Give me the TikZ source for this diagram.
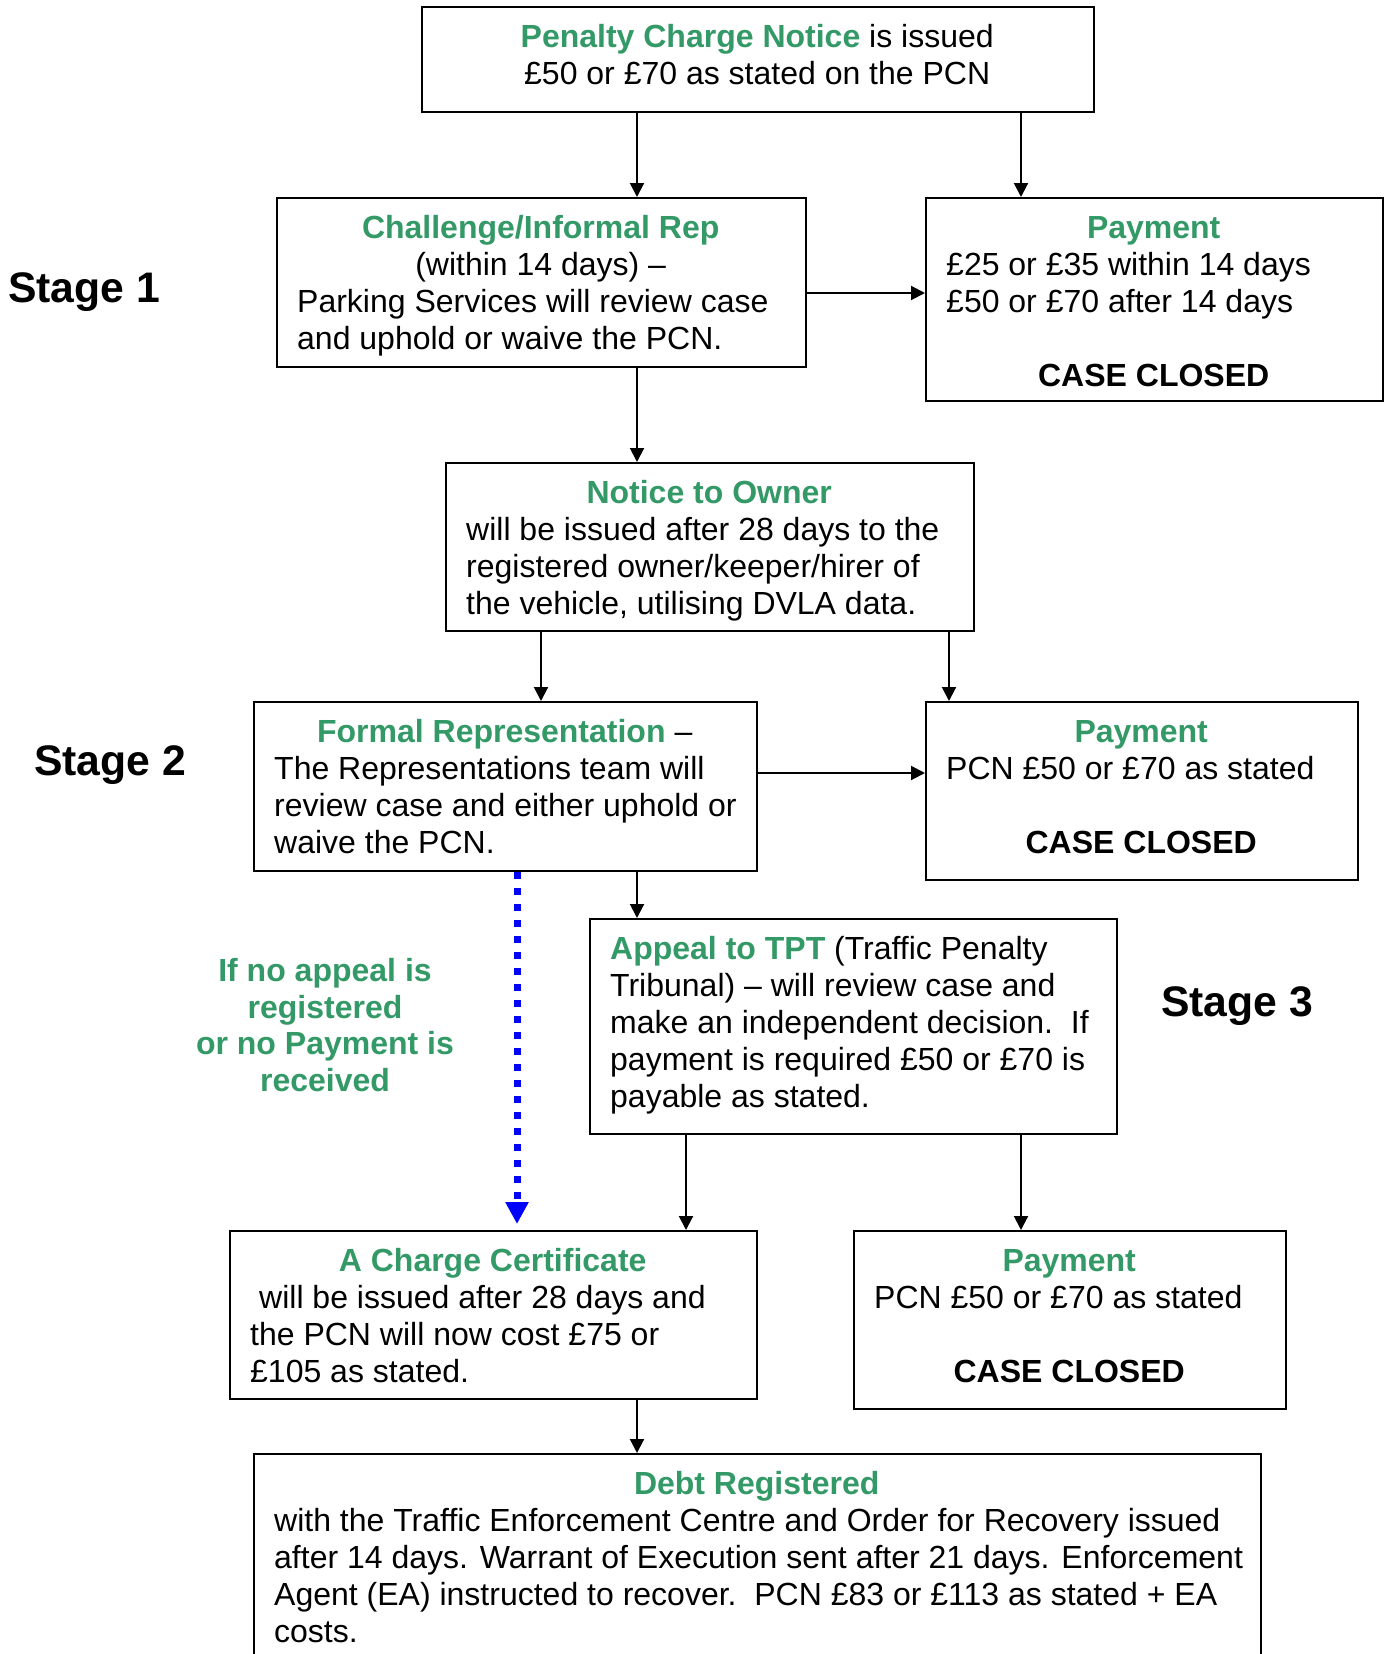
\documentclass[tikz,border=0pt]{standalone}
\usepackage{fontspec}
\setmainfont{Liberation Sans}
\usetikzlibrary{arrows.meta,positioning}
\definecolor{tgreen}{RGB}{51,153,102}
\newcommand\hd[2]{\makebox[#1]{\strut #2}}
\newcommand\grn[1]{{\color{tgreen}\bfseries #1}}

\begin{document}
\begin{tikzpicture}[x=1pt,y=-1pt,
  frame/.style={draw, line width=2pt, inner sep=0pt, anchor=north west},
  txt/.style={inner sep=0pt, align=left, font=\fontsize{32}{36.9}\selectfont},
  stage/.style={inner sep=0pt, anchor=west, font=\fontsize{42.7}{49}\selectfont\bfseries},
  arr/.style={line width=2pt, -{Triangle[length=14pt,width=14pt]}},
  dotarr/.style={blue, line width=7pt, dash pattern=on 7pt off 9pt, -{Triangle[length=22pt,width=22pt]}}]
\useasboundingbox (0,0) rectangle (1386,1654);
\clip (0,0) rectangle (1386,1654);

% frames
\node[frame, minimum width=672pt, minimum height=105pt] (pcn) at (421,6) {};
\node[frame, minimum width=529pt, minimum height=169pt] (chal) at (276,197) {};
\node[frame, minimum width=457pt, minimum height=203pt] (pay1) at (925,197) {};
\node[frame, minimum width=528pt, minimum height=168pt] (nto) at (445,462) {};
\node[frame, minimum width=503pt, minimum height=169pt] (formal) at (253,701) {};
\node[frame, minimum width=432pt, minimum height=178pt] (pay2) at (925,701) {};
\node[frame, minimum width=527pt, minimum height=215pt] (appeal) at (589,918) {};
\node[frame, minimum width=527pt, minimum height=168pt] (cert) at (229,1230) {};
\node[frame, minimum width=432pt, minimum height=178pt] (pay3) at (853,1230) {};
\node[frame, minimum width=1007pt, minimum height=260pt] (debt) at (253,1453) {};

% texts
\node[txt, below right=15.7pt and 21pt of pcn.north west] (pcntxt)
  {\hd{630pt}{\grn{Penalty Charge Notice} is issued}\\
   \hd{630pt}{£50 or £70 as stated on the PCN}};
\node[txt, below right=15.7pt and 21pt of chal.north west] (chaltxt)
  {\hd{487pt}{\grn{Challenge/Informal Rep}}\\
   \hd{487pt}{(within 14 days) --}\\
   Parking Services will review case\\
   and uphold or waive the PCN.};
\node[txt, below right=15.7pt and 21pt of pay1.north west] (pay1txt)
  {\hd{415pt}{\grn{Payment}}\\
   £25 or £35 within 14 days\\
   £50 or £70 after 14 days\\
   \mbox{}\\
   \hd{415pt}{\bfseries CASE CLOSED}};
\node[txt, below right=15.7pt and 21pt of nto.north west] (ntotxt)
  {\hd{486pt}{\grn{Notice to Owner}}\\
   will be issued after 28 days to the\\
   registered owner/keeper/hirer of\\
   the vehicle, utilising DVLA data.};
\node[txt, below right=15.7pt and 21pt of formal.north west] (formaltxt)
  {\hd{461pt}{\grn{Formal Representation} --}\\
   The Representations team will\\
   review case and either uphold or\\
   waive the PCN.};
\node[txt, below right=15.7pt and 21pt of pay2.north west] (pay2txt)
  {\hd{390pt}{\grn{Payment}}\\
   PCN £50 or £70 as stated\\
   \mbox{}\\
   \hd{390pt}{\bfseries CASE CLOSED}};
\node[txt, below right=15.7pt and 21pt of appeal.north west] (appealtxt)
  {\strut\grn{Appeal to TPT} (Traffic Penalty\\
   Tribunal) -- will review case and\\
   make an independent decision.\ \ If\\
   payment is required £50 or £70 is\\
   payable as stated.};
\node[txt, below right=15.7pt and 21pt of cert.north west] (certtxt)
  {\hd{485pt}{\grn{A Charge Certificate}}\\
   \hspace*{9pt}will be issued after 28 days and\\
   the PCN will now cost £75 or\\
   £105 as stated.};
\node[txt, below right=15.7pt and 21pt of pay3.north west] (pay3txt)
  {\hd{390pt}{\grn{Payment}}\\
   PCN £50 or £70 as stated\\
   \mbox{}\\
   \hd{390pt}{\bfseries CASE CLOSED}};
\node[txt, below right=15.7pt and 21pt of debt.north west] (debttxt)
  {\hd{965pt}{\grn{Debt Registered}}\\
   with the Traffic Enforcement Centre and Order for Recovery issued\\
   after 14 days. Warrant of Execution sent after 21 days. Enforcement\\
   Agent (EA) instructed to recover.\ \ PCN £83 or £113 as stated + EA\\
   costs.};

% stages and side note
\node[stage] (st1) at (8,292) {Stage 1};
\node[stage] (st2) at (34,765) {Stage 2};
\node[stage] (st3) at (1161,1006) {Stage 3};
\node[txt, align=center, font=\fontsize{32}{36.9}\selectfont\bfseries, text=tgreen] (noappeal) at (325,1025)
  {If no appeal is\\registered\\or no Payment is\\received};

% connector lines
\coordinate (c1) at (637,0);
\coordinate (c2) at (1021,0);
\coordinate (c3) at (541,0);
\coordinate (c4) at (949,0);
\coordinate (c5) at (686,0);
\coordinate (c6) at (517,0);
\coordinate (r1) at (0,293);
\coordinate (r2) at (0,773);
\draw[arr] (pcn.south -| c1) -- (chal.north -| c1);
\draw[arr] (pcn.south -| c2) -- (pay1.north -| c2);
\draw[arr] (chal.east |- r1) -- (pay1.west |- r1);
\draw[arr] (chal.south -| c1) -- (nto.north -| c1);
\draw[arr] (nto.south -| c3) -- (formal.north -| c3);
\draw[arr] (nto.south -| c4) -- (pay2.north -| c4);
\draw[arr] (formal.east |- r2) -- (pay2.west |- r2);
\draw[arr] (formal.south -| c1) -- (appeal.north -| c1);
\draw[arr] (appeal.south -| c5) -- (cert.north -| c5);
\draw[arr] (appeal.south -| c2) -- (pay3.north -| c2);
\draw[arr] (cert.south -| c1) -- (debt.north -| c1);
\draw[dotarr] (formal.south -| c6) -- ([yshift=6pt]cert.north -| c6);
\end{tikzpicture}
\end{document}
